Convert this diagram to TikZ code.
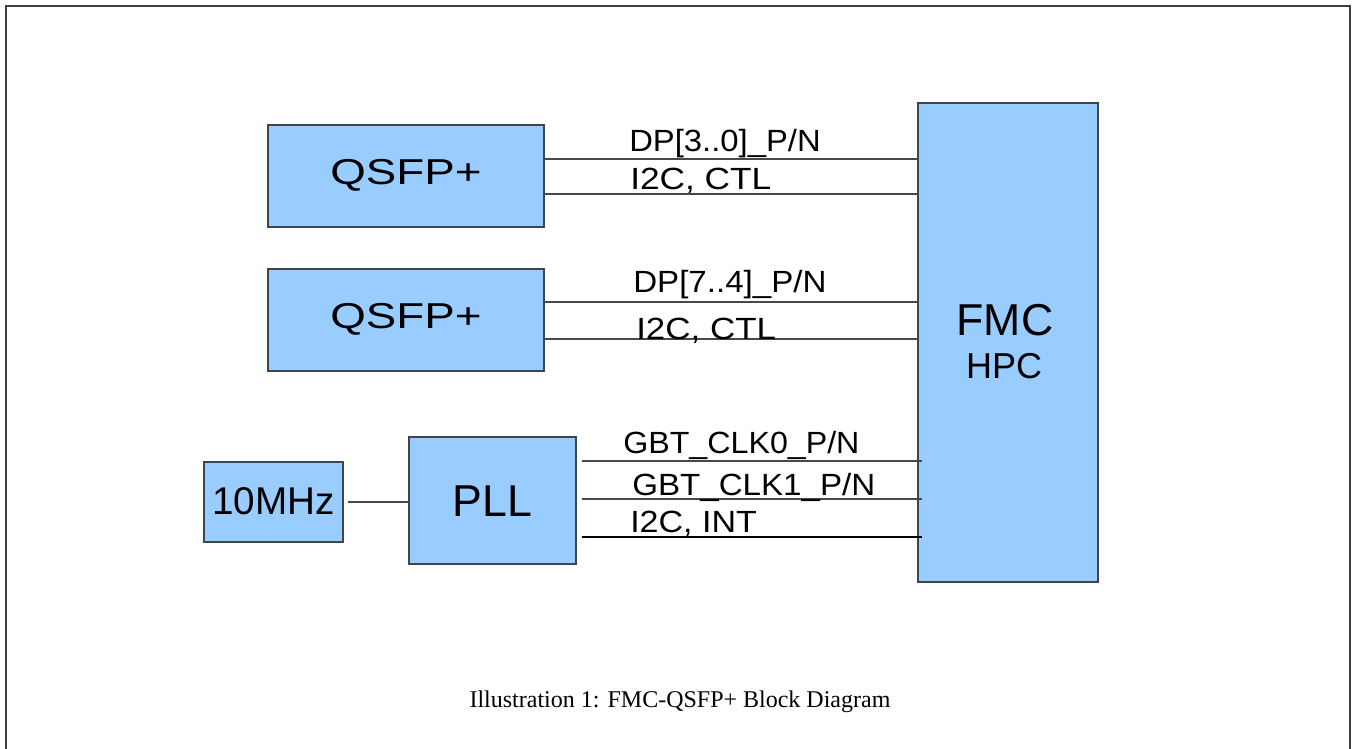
\documentclass[tikz,border=0pt]{standalone}
\usepackage{fontspec}
\setmainfont{Liberation Sans}
\newfontfamily\capfont{Liberation Serif}
\usepackage{graphicx}
\definecolor{boxfill}{HTML}{99CCFF}
\definecolor{boxline}{HTML}{3C4650}
\definecolor{wire}{HTML}{484848}
\tikzset{
 block/.style={draw=boxline, fill=boxfill, line width=1.5pt, inner sep=0pt, anchor=north west, text depth=0pt},
 sig/.style={draw=wire, line width=1.4pt},
 lbl/.style={anchor=base west, inner sep=0pt, font=\fontsize{23pt}{27pt}\selectfont},
 ttl/.style={anchor=base, inner sep=0pt},
}
\newcommand{\hs}[2]{\scalebox{#1}[1]{#2}}
\begin{document}
\begin{tikzpicture}[x=0.75pt,y=-0.75pt]
\useasboundingbox (0,0) rectangle (1352,749);
\draw[line width=1.2pt, black!75] (6,749) -- (6,6) -- (1350,6) -- (1350,749);

% blocks
\node[block, minimum width=207pt, minimum height=76.5pt, text height=12pt, font=\fontsize{27pt}{32pt}\selectfont] (q1) at (267,124) {\hs{1.27}{QSFP+}};
\node[block, minimum width=207pt, minimum height=76.5pt, text height=12pt, font=\fontsize{27pt}{32pt}\selectfont] (q2) at (267,268) {\hs{1.27}{QSFP+}};
\node[block, minimum width=135pt, minimum height=359.25pt] (fmc) at (917,102) {};
\node[block, minimum width=104.25pt, minimum height=60pt, text height=18pt, font=\fontsize{29pt}{34pt}\selectfont] (osc) at (203,461) {10MHz};
\node[block, minimum width=125.25pt, minimum height=95.25pt, text height=23.25pt, font=\fontsize{33.5pt}{38pt}\selectfont] (pll) at (408,436) {PLL};

\node[ttl, font=\fontsize{33.5pt}{38pt}\selectfont] (fmct) at (1005,335) {FMC};
\node[ttl, font=\fontsize{27pt}{32pt}\selectfont] (hpct) at (1004,378) {HPC};

% connectors
\draw[sig] (q1.east |- 0,159) -- (fmc.west |- 0,159);
\draw[sig] (q1.east |- 0,194) -- (fmc.west |- 0,194);
\draw[sig] (q2.east |- 0,302) -- (fmc.west |- 0,302);
\draw[sig] (q2.east |- 0,339) -- (fmc.west |- 0,339);
\coordinate (pe) at ([xshift=3.5pt]pll.east);
\coordinate (fe) at ([xshift=3.5pt]fmc.west);
\draw[sig] (pe |- 0,461) -- (fe |- 0,461);
\draw[sig] (pe |- 0,499) -- (fe |- 0,499);
\draw[sig, draw=black] (pe |- 0,537) -- (fe |- 0,537);
\draw[sig] ([xshift=3pt]osc.east) -- (osc.east -| pll.west);

% labels
\node[lbl] (l1) at (629,151) {\hs{1.07}{DP[3..0]\_P/N}};
\node[lbl] (l2) at (630,189) {\hs{1.15}{I2C, CTL}};
\node[lbl] (l3) at (633,292) {\hs{1.08}{DP[7..4]\_P/N}};
\node[lbl] (l4) at (636,339) {\hs{1.14}{I2C, CTL}};
\node[lbl] (l5) at (623,453) {\hs{1.05}{GBT\_CLK0\_P/N}};
\node[lbl] (l6) at (632,495) {\hs{1.08}{GBT\_CLK1\_P/N}};
\node[lbl] (l7) at (630,532) {\hs{1.11}{I2C, INT}};

% caption
\node[ttl, font=\capfont\fontsize{18pt}{22pt}\selectfont] (cap) at (680,707) {Illustration 1: FMC-QSFP+ Block Diagram};
\end{tikzpicture}
\end{document}
